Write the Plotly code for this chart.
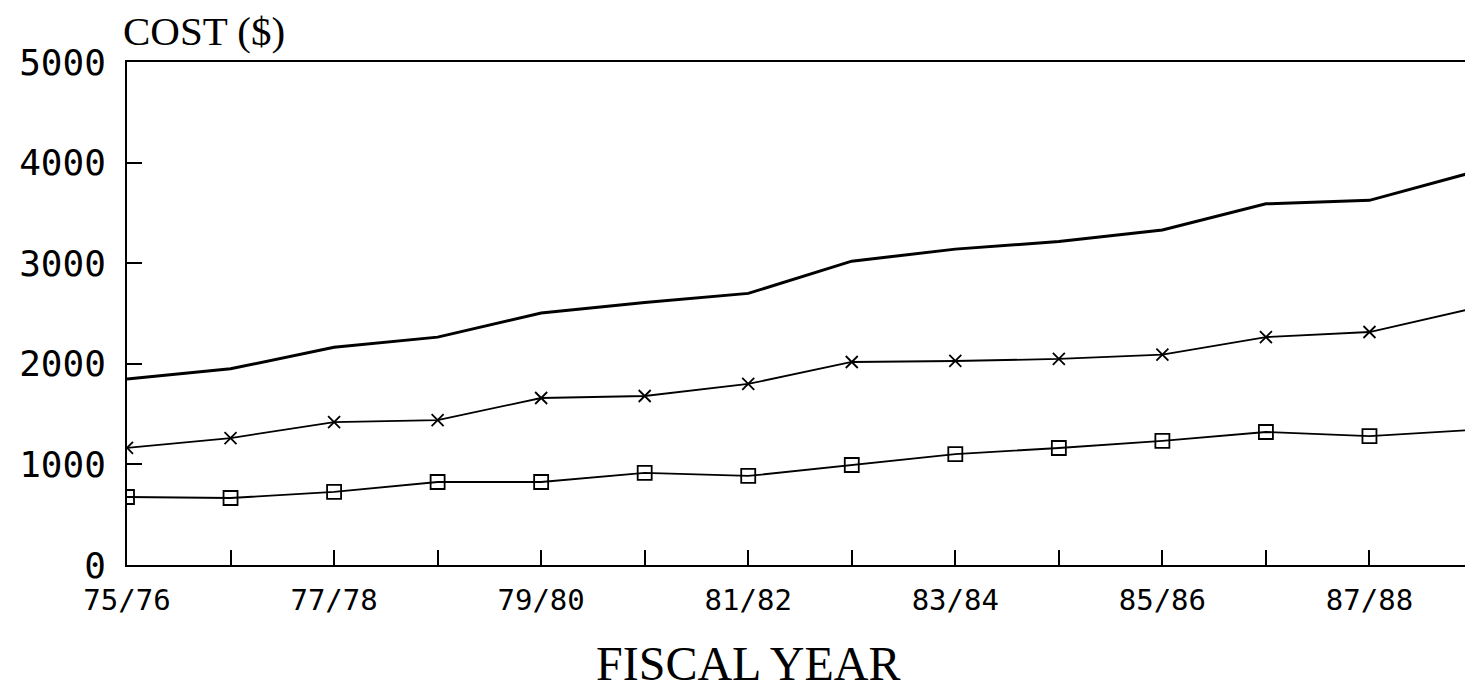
import plotly.graph_objects as go

years = ["75/76", "76/77", "77/78", "78/79", "79/80", "80/81", "81/82",
         "82/83", "83/84", "84/85", "85/86", "86/87", "87/88", "88/89"]
total = [1850, 1950, 2165, 2265, 2505, 2610, 2700, 3020, 3140, 3215, 3330, 3590, 3625, 3905]
series_x = [1165, 1262, 1421, 1441, 1660, 1680, 1800, 2018, 2028, 2048, 2092, 2266, 2316, 2550]
series_sq = [676, 666, 726, 825, 825, 915, 885, 994, 1103, 1163, 1233, 1322, 1282, 1342]
y_ticks = [0, 1000, 2000, 3000, 4000, 5000]
x_labels = [y if i % 2 == 0 else "" for i, y in enumerate(years)]

idx = list(range(len(years)))

fig = go.Figure()
fig.add_trace(go.Scatter(x=idx, y=total, mode="lines",
                         line=dict(color="black", width=3), showlegend=False))
fig.add_trace(go.Scatter(x=idx, y=series_x, mode="lines+markers",
                         line=dict(color="black", width=1.8),
                         marker=dict(symbol="x-thin-open", size=12,
                                     line=dict(color="black", width=1.8)),
                         showlegend=False))
fig.add_trace(go.Scatter(x=idx, y=series_sq, mode="lines+markers",
                         line=dict(color="black", width=1.8),
                         marker=dict(symbol="square-open", size=14, color="black",
                                     line=dict(color="black", width=1.8)),
                         showlegend=False))

fig.update_xaxes(range=[0, len(years) - 1], tickmode="array", tickvals=idx,
                 ticktext=x_labels, ticks="inside", ticklen=15, tickwidth=1.8,
                 tickcolor="black", showline=True, linecolor="black", linewidth=1.8,
                 mirror=True, showgrid=False, zeroline=False, ticklabelstandoff=8,
                 tickfont=dict(family="DejaVu Sans Mono", size=29, color="black"))
fig.update_yaxes(range=[0, 5000], tickmode="array", tickvals=y_ticks,
                 ticks="inside", ticklen=15, tickwidth=1.8, tickcolor="black",
                 showline=True, linecolor="black", linewidth=1.8,
                 showgrid=False, zeroline=False, ticklabelstandoff=12,
                 tickfont=dict(family="DejaVu Sans Mono", size=36, color="black"))

fig.add_annotation(text="COST ($)", xref="paper", yref="paper", x=0, y=1.0,
                   xanchor="left", yanchor="bottom", xshift=-6, yshift=6, showarrow=False,
                   font=dict(family="Liberation Serif", size=41, color="black"))
fig.add_annotation(text="FISCAL YEAR", xref="paper", yref="paper", x=0.461, y=0,
                   xanchor="center", yanchor="middle", yshift=-98, showarrow=False,
                   font=dict(family="Liberation Serif", size=48, color="black"))

fig.update_layout(width=1473, height=691, margin=dict(l=119, r=8, t=54, b=134),
                  paper_bgcolor="white", plot_bgcolor="white")

fig.write_html("out.html")
